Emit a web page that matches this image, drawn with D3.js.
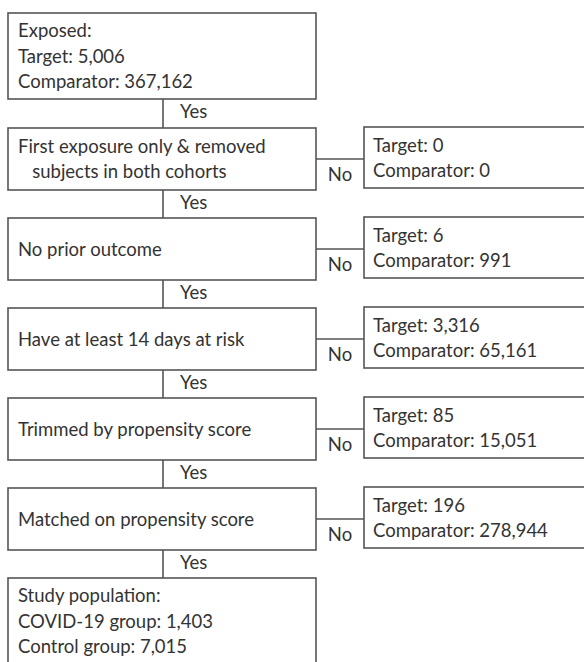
<!DOCTYPE html>
<html lang="en">

<head>
    <meta charset="UTF-8">
    <title>Flow chart</title>
    <script src="https://cdn.jsdelivr.net/npm/d3@7"></script>
    <style>
        body {
            margin: 0;
            background: #fff;
        }

        svg text {
            font-family: Lato, "Noto Sans", sans-serif;
            font-size: 18.5px;
            fill: #333;
        }
    </style>
</head>

<body>
    <script>
        // main flow boxes (left column)
        var mainLabels = [
            ["Exposed:", "Target: 5,006", "Comparator: 367,162"],
            ["First exposure only & removed", "\u00a0\u00a0\u00a0subjects in both cohorts"],
            ["No prior outcome"],
            ["Have at least 14 days at risk"],
            ["Trimmed by propensity score"],
            ["Matched on propensity score"],
            ["Study population:", "COVID-19 group: 1,403", "Control group: 7,015"]
        ];
        // excluded subjects at each step (right column), steps 1..5
        var excludedTarget = [0, 6, 3316, 85, 196];
        var excludedComparator = [0, 991, 65161, 15051, 278944];
        var yesLabel = "Yes";
        var noLabel = "No";

        var width = 584,
            height = 662;
        var fmt = d3.format(",");

        var svg = d3.select("body").append("svg")
            .attr("width", width)
            .attr("height", height);

        // step index -> top of box
        var y = d3.scaleLinear().domain([1, 6]).range([128, 578]);
        var boxH = 62,
            bigH = 86,
            lineH = 25.5,
            capH = 13;
        var leftX = 8,
            leftW = 308,
            rightX = 364,
            rightW = 240,
            stemX = 163;

        var steps = mainLabels.map(function (lines, i) {
            var top = i == 0 ? 13 : y(i);
            var h = lines.length > 2 ? bigH : boxH;
            return { i: i, lines: lines, top: top, h: h };
        });

        var stroke = "#555";

        // vertical connectors + Yes
        var links = steps.slice(1);
        svg.append("g").selectAll("line")
            .data(links)
            .enter()
            .append("line")
            .attr("x1", stemX)
            .attr("x2", stemX)
            .attr("y1", function (d) { return steps[d.i - 1].top + steps[d.i - 1].h; })
            .attr("y2", function (d) { return d.top; })
            .style("stroke", stroke)
            .style("stroke-width", 1.6);
        svg.append("g").selectAll("text")
            .data(links)
            .enter()
            .append("text")
            .attr("x", 180)
            .attr("y", function (d) { return steps[d.i - 1].top + steps[d.i - 1].h + 19; })
            .text(yesLabel);

        // left boxes
        var boxes = svg.append("g").selectAll("g")
            .data(steps)
            .enter()
            .append("g");
        boxes.append("rect")
            .attr("x", leftX)
            .attr("y", function (d) { return d.top; })
            .attr("width", leftW)
            .attr("height", function (d) { return d.h; })
            .style("fill", "none")
            .style("stroke", stroke)
            .style("stroke-width", 1.6);
        boxes.each(function (d) {
            var g = d3.select(this);
            var n = d.lines.length;
            var c = d.top + d.h / 2;
            d.lines.forEach(function (t, k) {
                g.append("text")
                    .attr("x", leftX + 10)
                    .attr("y", c + (k - (n - 1) / 2) * lineH + capH / 2)
                    .text(t);
            });
        });

        // excluded boxes
        var excl = excludedTarget.map(function (t, k) {
            return { step: steps[k + 1], lines: ["Target: " + fmt(t), "Comparator: " + fmt(excludedComparator[k])] };
        });
        var eg = svg.append("g").selectAll("g")
            .data(excl)
            .enter()
            .append("g");
        eg.append("line")
            .attr("x1", leftX + leftW)
            .attr("x2", rightX)
            .attr("y1", function (d) { return d.step.top + d.step.h / 2; })
            .attr("y2", function (d) { return d.step.top + d.step.h / 2; })
            .style("stroke", stroke)
            .style("stroke-width", 1.6);
        eg.append("rect")
            .attr("x", rightX)
            .attr("y", function (d) { return d.step.top - 1; })
            .attr("width", rightW)
            .attr("height", function (d) { return d.step.h - 1; })
            .style("fill", "none")
            .style("stroke", stroke)
            .style("stroke-width", 1.6);
        eg.append("text")
            .attr("x", (leftX + leftW + rightX) / 2)
            .attr("y", function (d) { return d.step.top + d.step.h - 9; })
            .attr("text-anchor", "middle")
            .text(noLabel);
        eg.each(function (d) {
            var g = d3.select(this);
            var c = d.step.top + d.step.h / 2 - 1;
            d.lines.forEach(function (t, k) {
                g.append("text")
                    .attr("x", rightX + 9)
                    .attr("y", c + (k - 0.5) * lineH + capH / 2)
                    .text(t);
            });
        });
    </script>
</body>

</html>
